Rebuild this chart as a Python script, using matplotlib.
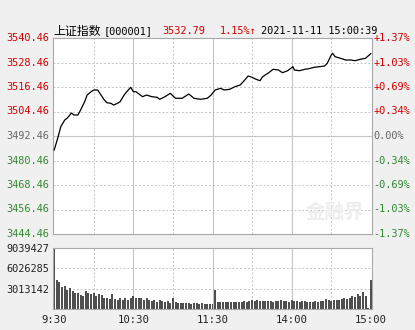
import matplotlib.pyplot as plt
import matplotlib.transforms as mtransforms

# ---------------------------------------------------------------
#                SSE COMPOSITE INTRADAY (2021-11-11)
# ---------------------------------------------------------------

prev_close = 3492.46
last_price = 3532.79
price_ticks = [3444.46, 3456.46, 3468.46, 3480.46, 3492.46, 3504.46, 3516.46, 3528.46, 3540.46]

# minutes since 9:30 (lunch break removed, 240 = 15:00)
minutes = [0, 3, 5, 8, 10, 13, 15, 18, 20, 23, 25, 28, 30, 33, 35, 38, 40, 43, 45, 48,
           50, 53, 55, 58, 60, 62, 67, 70, 74, 78, 80, 84, 88, 92, 97, 102, 106, 111, 116, 119,
           122, 126, 129, 133, 137, 141, 144, 147, 150, 153, 156, 158, 162, 166, 170, 173, 177, 181, 182, 186,
           190, 193, 197, 201, 205, 207, 210, 211, 213, 217, 221, 225, 228, 232, 236, 240]
prices = [3485.60, 3492.12, 3497.02, 3500.30, 3501.28, 3503.72, 3502.75, 3502.75, 3505.19, 3509.11,
          3512.54, 3514.16, 3514.99, 3514.99, 3513.03, 3510.09, 3508.77, 3508.48, 3507.64, 3508.48,
          3509.26, 3512.54, 3514.16, 3516.31, 3514.16, 3514.16, 3511.71, 3512.54, 3511.71, 3511.42,
          3510.44, 3511.71, 3513.37, 3510.93, 3510.93, 3513.03, 3510.93, 3510.44, 3510.93, 3512.54,
          3514.99, 3515.82, 3514.99, 3515.33, 3516.61, 3517.44, 3519.55, 3521.85, 3521.21, 3520.23,
          3519.55, 3521.50, 3523.17, 3525.13, 3524.79, 3523.46, 3524.44, 3526.40, 3524.79, 3524.44,
          3525.13, 3525.42, 3526.11, 3526.40, 3526.75, 3528.07, 3532.13, 3532.97, 3531.30, 3530.52,
          3529.68, 3529.68, 3529.34, 3530.03, 3530.52, 3532.79]

# volume, one bar every 2 minutes (millions of shares)
vol_minutes = list(range(0, 241, 2))
volumes = [8.9, 4.3, 4.0, 3.3, 3.4, 2.8, 3.1, 2.7, 2.4, 2.3,
           2.1, 1.9, 2.6, 2.3, 2.2, 2.4, 1.9, 2.2, 2.1, 1.7,
           1.6, 1.5, 2.2, 1.5, 1.4, 1.6, 1.4, 1.6, 1.4, 1.7,
           1.9, 1.7, 1.6, 1.6, 1.4, 1.6, 1.3, 1.2, 1.3, 1.1,
           1.3, 1.2, 1.1, 1.2, 0.95, 1.6, 1.05, 0.95, 0.95, 0.95,
           0.85, 0.85, 0.8, 0.85, 0.85, 0.8, 0.85, 0.8, 0.75, 0.8,
           0.7, 2.8, 1.0, 1.0, 1.05, 1.1, 1.05, 1.1, 1.05, 1.1,
           1.0, 1.1, 1.15, 1.1, 1.2, 1.3, 1.25, 1.3, 1.2, 1.25,
           1.2, 1.15, 1.25, 1.1, 1.2, 1.15, 1.3, 1.2, 1.15, 1.1,
           1.3, 1.2, 1.15, 1.1, 1.2, 1.15, 1.1, 1.05, 1.1, 1.15,
           1.1, 1.15, 1.2, 1.5, 1.3, 1.2, 1.3, 1.35, 1.4, 1.5,
           1.6, 1.5, 1.7, 1.9, 1.8, 2.2, 2.0, 2.5, 1.9, 0.15,
           4.3]
vol_max = 9039427
vol_ticks = [3013142, 6026285, 9039427]

time_ticks = [0, 60, 120, 180, 240]
time_labels = ['9:30', '10:30', '11:30', '14:00', '15:00']
grid_minutes = [30, 60, 90, 120, 150, 180, 210]
solid_minutes = [60, 120, 180]

RED = '#d40000'
GREEN = '#2f8a2f'
GRAY = '#666666'
MONO = ['DejaVu Sans Mono', 'Noto Sans CJK SC']
FS = 7.4

fig = plt.figure(figsize=(4.15, 3.3), dpi=100)
fig.patch.set_facecolor('#f0f0f0')

ax = fig.add_axes([53/415, 1-234/330, 319/415, 196/330])
axv = fig.add_axes([53/415, 1-309/330, 319/415, 61/330])

for a in (ax, axv):
    a.set_facecolor('white')
    a.set_xlim(-0.9, 240.9)
    for s in a.spines.values():
        s.set_color('#a8a8a8')
        s.set_linewidth(0.8)
    a.tick_params(length=0)
    for m in grid_minutes:
        if m in solid_minutes:
            a.axvline(m, color='#c4c4c4', lw=0.8, zorder=0)
        else:
            a.axvline(m, color='#c4c4c4', lw=0.7, ls=(0, (2, 2)), zorder=0)

# ---------------- price panel ----------------
ax.set_ylim(price_ticks[0], price_ticks[-1])
for p in price_ticks[1:-1]:
    if p == prev_close:
        ax.axhline(p, color='#c4c4c4', lw=0.8, zorder=0)
    else:
        ax.axhline(p, color='#c4c4c4', lw=0.7, ls=(0, (2, 2)), zorder=0)

ax.text(213, 3455, '金融界', fontsize=14, fontweight='bold', color='#ededed',
        family=['Noto Sans CJK SC'], ha='center', va='center', zorder=0, clip_on=True)
ax.plot(minutes, prices, color='black', lw=0.9, zorder=3)

ax.set_xticks([])
ax.set_yticks([])
trans = mtransforms.blended_transform_factory(ax.transAxes, ax.transData)
for p in price_ticks:
    pct = (p - prev_close) / prev_close * 100
    if p > prev_close + 0.001:
        c = RED
        rl = '+%.2f%%' % pct
    elif p < prev_close - 0.001:
        c = GREEN
        rl = '%.2f%%' % pct
    else:
        c = GRAY
        rl = '0.00%'
    ax.text(-0.012, p, '%.2f' % p, transform=trans, ha='right', va='center',
            color=c, fontsize=FS, family=MONO)
    ax.text(1.004, p, rl, transform=trans, ha='left', va='center',
            color=c, fontsize=FS, family=MONO)

# header
fig.text(53/415, 1-31/330, '上证指数', fontsize=8.6, family=['Noto Sans CJK SC'],
         va='center', ha='left', color='black')
fig.text(104/415, 1-31/330, '[000001]', fontsize=FS, family=MONO, va='center', ha='left', color='black')
pct_now = (last_price - prev_close) / prev_close * 100
fig.text(162/415, 1-31/330, '%.2f' % last_price, fontsize=FS, family=MONO,
         va='center', ha='left', color=RED)
fig.text(220/415, 1-31/330, '%.2f%%↑' % pct_now, fontsize=FS, family=MONO,
         va='center', ha='left', color=RED)
fig.text(261/415, 1-31/330, '2021-11-11 15:00:39', fontsize=FS, family=MONO,
         va='center', ha='left', color='black')

# ---------------- volume panel ----------------
axv.bar(vol_minutes, [v * 1e6 for v in volumes], width=1.5, color='#4f4f4f', zorder=2)
axv.set_ylim(0, vol_max)
for v in vol_ticks[:-1]:
    axv.axhline(v, color='#c4c4c4', lw=0.7, ls=(0, (2, 2)), zorder=0)
axv.set_yticks(vol_ticks)
axv.set_yticklabels([str(v) for v in vol_ticks], fontsize=FS, family=MONO, color='#222222')
axv.tick_params(axis='y', pad=3)
axv.set_xticks(time_ticks)
axv.set_xticklabels(time_labels, fontsize=FS + 0.3, family=MONO, color='#222222')
axv.tick_params(axis='x', pad=4)

plt.savefig('out.png', dpi=100, facecolor=fig.get_facecolor())
